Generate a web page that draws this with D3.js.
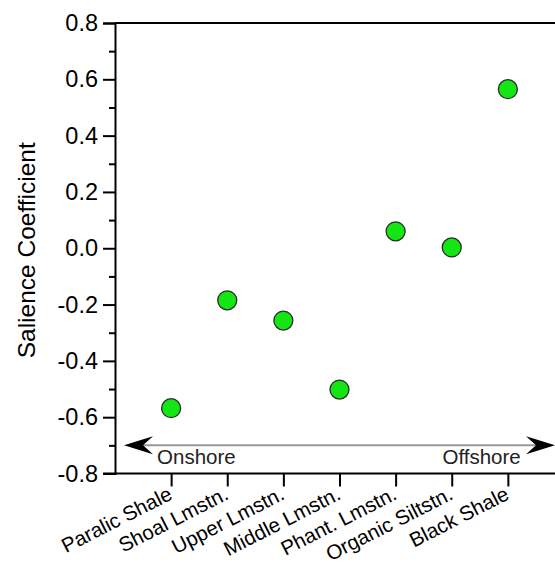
<!DOCTYPE html>
<html><head><meta charset="utf-8">
<script src="https://cdn.jsdelivr.net/npm/d3@7"></script>
<style>body{margin:0;background:#fff}svg{display:block}text{font-family:"Liberation Sans",Arial,sans-serif}</style>
</head><body>
<script>
const categories = ["Paralic Shale","Shoal Lmstn.","Upper Lmstn.","Middle Lmstn.","Phant. Lmstn.","Organic Siltstn.","Black Shale"];
const salience = [-0.568,-0.185,-0.257,-0.502,0.060,0.003,0.565];
const yTicks = [-0.8,-0.6,-0.4,-0.2,0.0,0.2,0.4,0.6,0.8];
const yMinor = [-0.7,-0.5,-0.3,-0.1,0.1,0.3,0.5,0.7];
const yTitle = "Salience Coefficient";
const arrowLabels = ["Onshore","Offshore"];

const W=555,H=564;
const svg=d3.select("body").append("svg").attr("width",W).attr("height",H);
const x=d3.scaleLinear().domain([0,7.84]).range([115,555]);
const y=d3.scaleLinear().domain([-0.8,0.8]).range([473.5,23]);

// top border
svg.append("line").attr("x1",x(0)).attr("x2",W).attr("y1",y(0.8)).attr("y2",y(0.8)).attr("stroke","#000").attr("stroke-width",2);

// y axis
const ya=svg.append("g").attr("transform",`translate(${x(0)},0)`)
  .call(d3.axisLeft(y).tickValues(yTicks).tickFormat(d3.format(".1f")).tickSize(12).tickPadding(5));
ya.select(".domain").attr("stroke-width",2);
ya.selectAll(".tick line").attr("stroke-width",2);
ya.selectAll(".tick text").attr("font-size",23.5).attr("fill","#000").attr("font-family","Liberation Sans, Arial, sans-serif")
  .text(d=>d3.format(".1f")(d).replace("−","-"));
const ym=svg.append("g").attr("transform",`translate(${x(0)},0)`)
  .call(d3.axisLeft(y).tickValues(yMinor).tickFormat("").tickSize(6));
ym.select(".domain").remove();
ym.selectAll(".tick line").attr("stroke-width",2);

// x axis
const xa=svg.append("g").attr("transform",`translate(0,${y(-0.8)})`)
  .call(d3.axisBottom(x).tickValues(categories.map((c,i)=>i+1)).tickFormat(i=>categories[i-1]).tickSize(13).tickSizeOuter(0));
xa.select(".domain").attr("stroke-width",2).attr("d",`M${x(0)-12},0H${W}`);
xa.selectAll(".tick line").attr("stroke-width",2);
xa.selectAll(".tick text").attr("font-size",20.5).attr("fill","#000").attr("font-family","Liberation Sans, Arial, sans-serif")
  .attr("text-anchor","end").attr("dy",0).attr("y",0)
  .attr("transform","translate(2,25) rotate(-27)");

// y title
svg.append("text").attr("transform",`translate(35,${(y(0.8)+y(-0.8))/2+2}) rotate(-90)`)
  .attr("text-anchor","middle").attr("font-size",24.5).attr("fill","#000").text(yTitle);

// arrow
const ay=y(-0.7);
svg.append("line").attr("x1",x(0.45)).attr("x2",x(7.6)).attr("y1",ay).attr("y2",ay).attr("stroke","#999").attr("stroke-width",2);
function head(tipX,dir){
  const L=29,h=9,n=19;
  return `M${tipX},${ay}L${tipX+dir*L},${ay-h}L${tipX+dir*n},${ay}L${tipX+dir*L},${ay+h}Z`;
}
svg.append("path").attr("d",head(x(0.16),1)).attr("fill","#000");
svg.append("path").attr("d",head(x(7.84),-1)).attr("fill","#000");
svg.append("text").attr("x",x(0.75)).attr("y",y(-0.768)).attr("font-size",20.5).attr("fill","#222").text(arrowLabels[0]);
svg.append("text").attr("x",x(7.23)).attr("y",y(-0.768)).attr("text-anchor","end").attr("font-size",20.5).attr("fill","#222").text(arrowLabels[1]);

// points
svg.append("g").selectAll("circle").data(salience).join("circle")
  .attr("cx",(d,i)=>x(i+1)).attr("cy",d=>y(d)).attr("r",9.5)
  .attr("fill","#14e614").attr("stroke","#2a2a2a").attr("stroke-width",1.3);
</script>
</body></html>
